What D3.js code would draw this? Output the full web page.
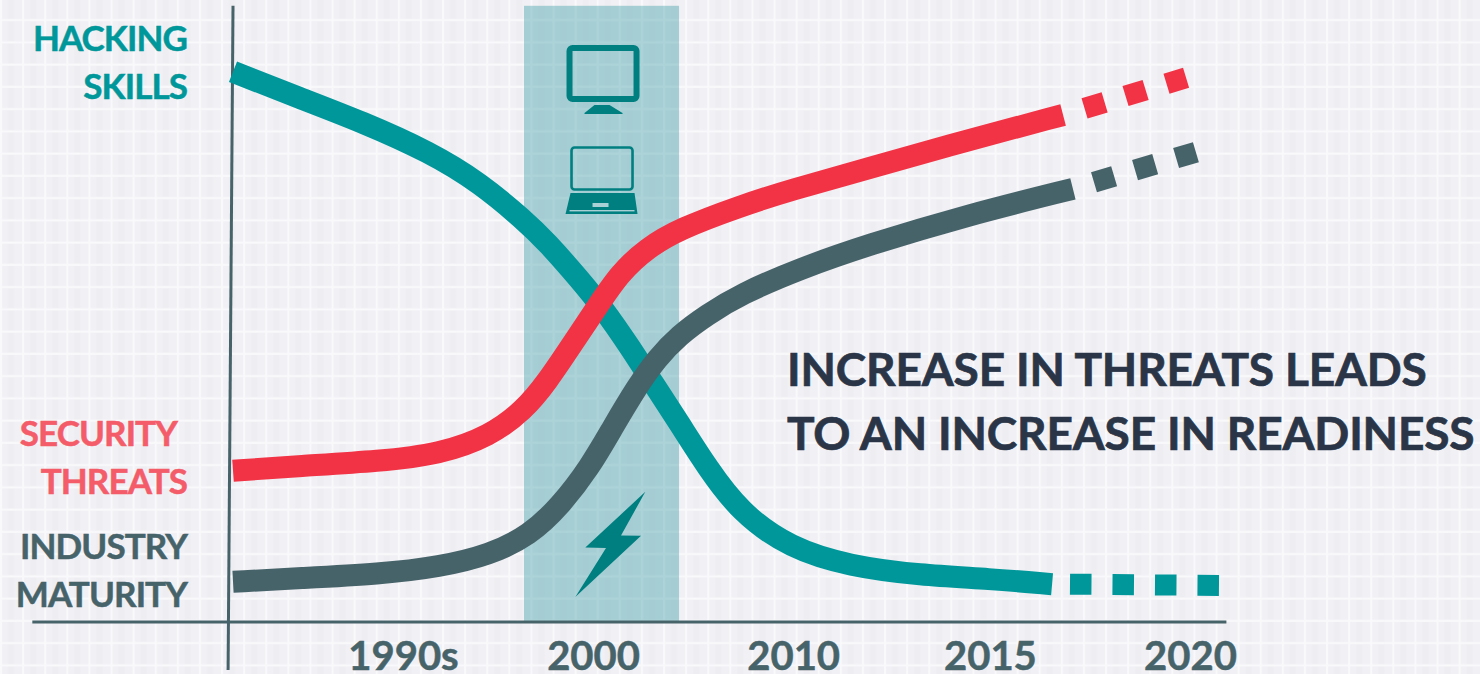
<!DOCTYPE html>
<html>
<head>
<meta charset="utf-8">
<script src="https://cdn.jsdelivr.net/npm/d3@7"></script>
<style>
  body { margin: 0; background: #f0f0f5; overflow: hidden; }
  text { font-family: Lato, "Open Sans", sans-serif; font-weight: 700; }
</style>
</head>
<body>
<script>
// tick labels are not quite evenly spaced in the original
var tickValues = [0, 96.6, 198.3, 298.3, 400];
var tickLabels = ["1990s", "2000", "2010", "2015", "2020"];

var hackingX = [-86.4, -53.9, -20.3, 13.7, 39.1, 61.5, 73.2, 90, 101.7, 115.4, 127.1, 140.3, 154.5, 171.3, 196.7, 227.2, 262.8, 298.3, 329.9];
var hackingY = [91.7, 87.5, 83.3, 78.3, 73.2, 67, 63.3, 57, 52.3, 45.8, 39.8, 33.2, 25.8, 18.3, 12.3, 9.3, 7.8, 7.2, 6.3];
var hackingDashX = [339, 415.2];
var hackingDashY = [6.3, 6.1];

var threatsX = [-86.4, -52.4, -11.7, 18.8, 44.2, 61.5, 73.2, 86.4, 98.6, 110.3, 124, 140.3, 171.3, 196.7, 235.8, 286.7, 335.5];
var threatsY = [25.2, 26, 26.8, 28, 31, 35.3, 40, 46.5, 52.5, 58.2, 62.3, 65.5, 69.3, 72, 75.5, 80.3, 84.5];
var threatsDashX = [346.4, 398];
var threatsDashY = [85.6, 90.7];

var maturityX = [-86.4, -52.4, -11.7, 18.8, 44.2, 64.5, 79.8, 95, 106.7, 118.9, 129, 140.3, 154.5, 171.3, 201.8, 235.8, 286.7, 340.5];
var maturityY = [6.7, 7.3, 8, 9.2, 11.2, 14.5, 19.3, 25.8, 32.5, 39.2, 43.9, 47.8, 51.2, 54.6, 58.9, 62.8, 67.8, 72.2];
var maturityDashX = [351.2, 403];
var maturityDashY = [73.3, 78.3];

// shaded period around 2000
var bandX = [61.5, 140.3];
var bandY = [0, 102.7];

var width = 1480, height = 674;
var teal = "#00979a", red = "#f23345", slate = "#47636a", iconColor = "#007f80";

var svg = d3.select("body").append("svg")
  .attr("width", width)
  .attr("height", height)
  .style("display", "block");

var x = d3.scaleLinear().domain([0, 400]).range([403, 1190]);
var y = d3.scaleLinear().domain([0, 100]).range([622, 22]);

// plaid background
var pattern = svg.append("defs").append("pattern")
  .attr("id", "plaid")
  .attr("patternUnits", "userSpaceOnUse")
  .attr("x", 0).attr("y", 0)
  .attr("width", 22.1).attr("height", 22.25);
pattern.append("rect").attr("width", 23).attr("height", 23).attr("fill", "#f0f0f5");
pattern.append("rect").attr("x", 8).attr("width", 6).attr("height", 23).attr("fill", "#eeeef2");
pattern.append("rect").attr("x", 0).attr("width", 2.2).attr("height", 23).attr("fill", "#f9f9fb");
pattern.append("rect").attr("y", 19).attr("width", 23).attr("height", 2.2).attr("fill", "#f9f9fb");
svg.append("rect").attr("width", width).attr("height", height).attr("fill", "url(#plaid)");

// band
svg.append("rect")
  .attr("x", x(bandX[0]))
  .attr("y", y(bandY[1]))
  .attr("width", x(bandX[1]) - x(bandX[0]))
  .attr("height", y(bandY[0]) - y(bandY[1]))
  .attr("fill", "#00808a")
  .attr("fill-opacity", 0.31);

// icons, drawn around the middle of the band
var bandMid = (bandX[0] + bandX[1]) / 2;
var monitor = svg.append("g")
  .attr("transform", "translate(" + x(bandMid) + "," + y(96) + ")")
  .attr("fill", iconColor);
monitor.append("rect").attr("x", -32).attr("y", 2).attr("width", 67).attr("height", 51).attr("rx", 3)
  .attr("fill", "none").attr("stroke", iconColor).attr("stroke-width", 6);
monitor.append("path").attr("d", "M-7,59 L8,59 L21,67 L21,68 L-17,68 L-17,67 Z");

var laptop = svg.append("g")
  .attr("transform", "translate(" + x(bandMid) + "," + y(79) + ")")
  .attr("fill", iconColor);
laptop.append("rect").attr("x", -30).attr("y", -0.5).attr("width", 61).attr("height", 42).attr("rx", 3)
  .attr("fill", "none").attr("stroke", iconColor).attr("stroke-width", 2.6);
laptop.append("path").attr("d", "M-31,45 L33,45 L36,66 L-36,66 Z");
laptop.append("rect").attr("x", -9).attr("y", 55).attr("width", 16).attr("height", 4).attr("fill", "#a9d0d5");
laptop.append("rect").attr("x", -32).attr("y", 62).attr("width", 65).attr("height", 1.4).attr("fill", "#a9d0d5");

svg.append("path")
  .attr("transform", "translate(" + x(bandMid) + "," + y(21.7) + ")")
  .attr("d", "M43.8,0 L19.5,43.7 L39.5,44 L-26.2,105.3 L4.5,56.3 L-16.2,55.7 Z")
  .attr("fill", iconColor);

// axes
var xAxis = d3.axisBottom(x)
  .tickValues(tickValues)
  .tickFormat(function(d, i) { return tickLabels[i]; })
  .tickSize(0);
var axisG = svg.append("g")
  .attr("transform", "translate(0," + y(0) + ")")
  .call(xAxis);
axisG.select(".domain").remove();
axisG.selectAll("text")
  .attr("y", 47.5)
  .attr("dy", 0)
  .attr("fill", slate)
  .attr("stroke", slate)
  .attr("stroke-width", 0.5)
  .style("font-size", "40px");

svg.append("line")
  .attr("x1", x(-188.4)).attr("x2", x(418.5))
  .attr("y1", y(0)).attr("y2", y(0))
  .attr("stroke", slate).attr("stroke-width", 3);
svg.append("line")
  .attr("x1", x(-86.4)).attr("x2", x(-88.9))
  .attr("y1", y(102.7)).attr("y2", y(-8))
  .attr("stroke", slate).attr("stroke-width", 3);

// series
var line = d3.line()
  .x(function(d) { return x(d[0]); })
  .y(function(d) { return y(d[1]); })
  .curve(d3.curveBasis);

var series = [
  {xs: hackingX, ys: hackingY, dx: hackingDashX, dy: hackingDashY, color: teal, dash: "21.5 21"},
  {xs: maturityX, ys: maturityY, dx: maturityDashX, dy: maturityDashY, color: slate, dash: "21 21.8"},
  {xs: threatsX, ys: threatsY, dx: threatsDashX, dy: threatsDashY, color: red, dash: "21 21.8"}
];

series.forEach(function(s) {
  svg.append("path")
    .attr("d", line(d3.zip(s.xs, s.ys)))
    .attr("fill", "none")
    .attr("stroke", s.color)
    .attr("stroke-width", 22);
  svg.append("path")
    .attr("d", d3.line().x(function(d) { return x(d[0]); }).y(function(d) { return y(d[1]); })(d3.zip(s.dx, s.dy)))
    .attr("fill", "none")
    .attr("stroke", s.color)
    .attr("stroke-width", 21)
    .attr("stroke-dasharray", s.dash);
});

// series names
var seriesLabels = ["HACKING", "SKILLS", "SECURITY", "THREATS", "INDUSTRY", "MATURITY"];
var labelColors = [teal, teal, "#f45c69", "#f45c69", slate, slate];
var labelRight = [187, 187, 177, 187, 187, 187];
var labelBase = [51, 99, 446, 494, 559, 607];
svg.selectAll(".series-label")
  .data(seriesLabels)
  .enter()
  .append("text")
    .attr("class", "series-label")
    .attr("x", function(d, i) { return labelRight[i]; })
    .attr("y", function(d, i) { return labelBase[i]; })
    .attr("text-anchor", "end")
    .attr("fill", function(d, i) { return labelColors[i]; })
    .attr("stroke", function(d, i) { return labelColors[i]; })
    .attr("stroke-width", 0.5)
    .style("font-size", "35px")
    .style("letter-spacing", "-0.9px")
    .text(function(d) { return d; });

// headline
var headline = ["INCREASE IN THREATS LEADS", "TO AN INCREASE IN READINESS"];
var headlineBase = [386, 450];
svg.selectAll(".headline")
  .data(headline)
  .enter()
  .append("text")
    .attr("class", "headline")
    .attr("x", 787)
    .attr("y", function(d, i) { return headlineBase[i]; })
    .attr("fill", "#2a3547")
    .attr("stroke", "#2a3547")
    .attr("stroke-width", 0.7)
    .style("font-size", "46px")
    .style("letter-spacing", "-0.15px")
    .text(function(d) { return d; });
</script>
</body>
</html>
